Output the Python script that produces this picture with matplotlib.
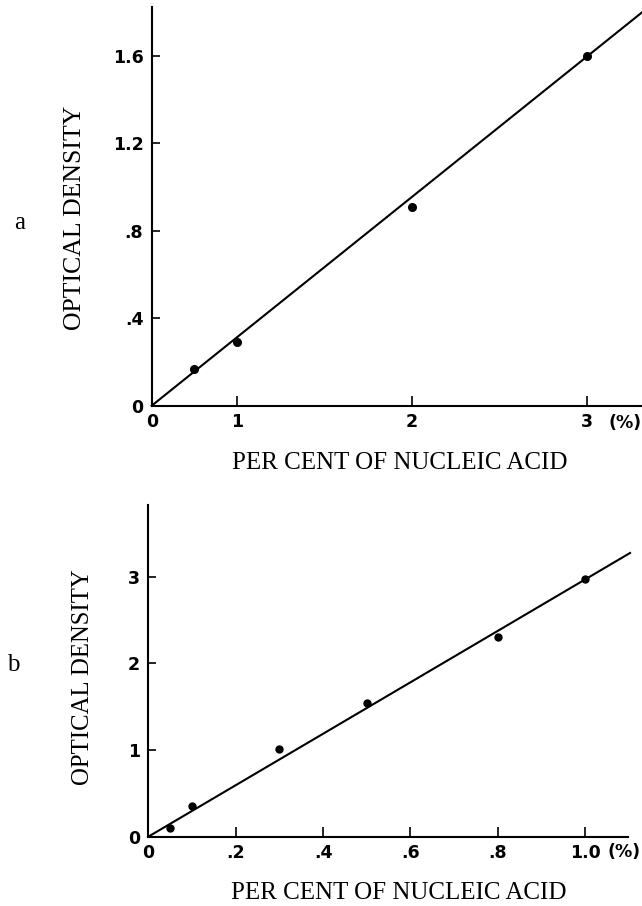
import numpy as np
import matplotlib
matplotlib.use("Agg")
import matplotlib.pyplot as plt

# ---------------- data ----------------
# panel a
a_x = [0.5, 1.0, 2.0, 3.0]
a_y = [0.17, 0.29, 0.91, 1.60]
a_fit_x = [0.0, 3.316]
a_fit_y = [0.0, 1.80]
a_xticks = [0, 1, 2, 3]
a_xticklabels = ["0", "1", "2", "3"]
a_yticks = [0, 0.4, 0.8, 1.2, 1.6]
a_yticklabels = ["0", ".4", ".8", "1.2", "1.6"]

# panel b
b_x = [0.05, 0.1, 0.3, 0.5, 0.8, 1.0]
b_y = [0.10, 0.35, 1.01, 1.54, 2.31, 2.97]
b_fit_x = [0.0, 1.103]
b_fit_y = [0.0, 3.276]
b_xticks = [0, 0.2, 0.4, 0.6, 0.8, 1.0]
b_xticklabels = ["0", ".2", ".4", ".6", ".8", "1.0"]
b_yticks = [0, 1, 2, 3]
b_yticklabels = ["0", "1", "2", "3"]

xlabel = "PER CENT OF NUCLEIC ACID"
ylabel = "OPTICAL DENSITY"

# ---------------- figure ----------------
W, H = 642, 906
fig = plt.figure(figsize=(W / 100, H / 100), dpi=100)

serif = ["Liberation Serif", "DejaVu Serif"]
tickfont = ["DejaVu Sans"]
TW = "semibold"

# piecewise scale for panel a (first unit compressed in the original)
BR = 0.486
def fwd(x):
    x = np.asarray(x, dtype=float)
    return np.where(x <= 1, x * BR, BR + (x - 1))
def inv(y):
    y = np.asarray(y, dtype=float)
    return np.where(y <= BR, y / BR, 1 + (y - BR))

def style(ax):
    for s in ["top", "right"]:
        ax.spines[s].set_visible(False)
    for s in ["left", "bottom"]:
        ax.spines[s].set_linewidth(1.5)
        ax.spines[s].set_color("black")
    ax.tick_params(axis="y", direction="in", length=6, width=1.2, pad=6,
                   labelsize=12.5)
    ax.tick_params(axis="x", direction="in", length=7.5, width=1.2, pad=5,
                   labelsize=12.5)
    for lab in ax.get_xticklabels() + ax.get_yticklabels():
        lab.set_family(tickfont)
        lab.set_fontweight(TW)

# ---- panel a ----
ax1 = fig.add_axes([151.7 / W, 1 - 405.7 / H, (642 - 151.7) / W, (405.7 - 6.7) / H])
ax1.set_xscale("function", functions=(fwd, inv))
ax1.set_xlim(0, 3.316)
ax1.set_ylim(0, 1.826)
ax1.plot(a_fit_x, a_fit_y, color="black", lw=1.5, clip_on=False, zorder=3)
ax1.plot(a_x, a_y, "o", color="black", ms=5.5, zorder=4, clip_on=False)
ax1.set_xticks(a_xticks)
ax1.set_xticklabels(a_xticklabels)
ax1.set_yticks(a_yticks)
ax1.set_yticklabels(a_yticklabels)
ax1.xaxis.set_minor_locator(matplotlib.ticker.NullLocator())
style(ax1)

fig.text(625 / W, 1 - 423 / H, "(%)", ha="center", va="center",
         fontsize=12.5, family=tickfont, fontweight=TW)
fig.text(400 / W, 1 - 463 / H, xlabel, ha="center", va="center",
         fontsize=18, family=serif)
fig.text(75 / W, 1 - 218 / H, ylabel, ha="center", va="center",
         rotation=90, fontsize=18.5, family=serif)
fig.text(20 / W, 1 - 223 / H, "a", ha="center", va="center",
         fontsize=18, family=serif)

# ---- panel b ----
ax2 = fig.add_axes([148.3 / W, 1 - 836.7 / H, (628.3 - 148.3) / W, (836.7 - 505) / H])
ax2.set_xlim(0, 1.099)
ax2.set_ylim(0, 3.83)
ax2.plot(b_fit_x, b_fit_y, color="black", lw=1.5, clip_on=False, zorder=3)
ax2.plot(b_x, b_y, "o", color="black", ms=5, zorder=4, clip_on=False)
ax2.set_xticks(b_xticks)
ax2.set_xticklabels(b_xticklabels)
ax2.set_yticks(b_yticks)
ax2.set_yticklabels(b_yticklabels)
style(ax2)

fig.text(641 / W, 1 - 852 / H, "(%)", ha="right", va="center",
         fontsize=12.5, family=tickfont, fontweight=TW)
fig.text(399 / W, 1 - 893 / H, xlabel, ha="center", va="center",
         fontsize=18, family=serif)
fig.text(83 / W, 1 - 677 / H, ylabel, ha="center", va="center",
         rotation=90, fontsize=17.8, family=serif)
fig.text(13 / W, 1 - 665 / H, "b", ha="center", va="center",
         fontsize=18, family=serif)

fig.savefig("out.png", dpi=100, facecolor="white")
